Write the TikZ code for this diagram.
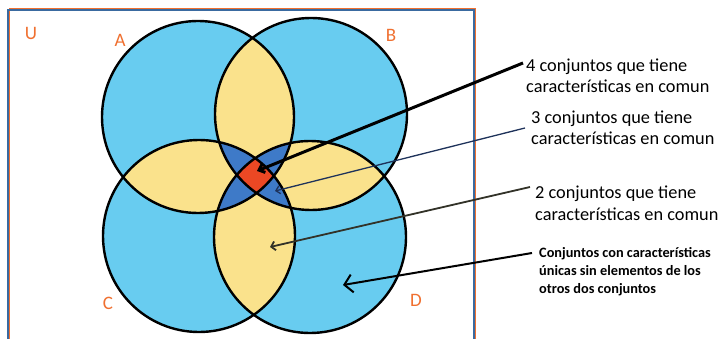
\documentclass[tikz,border=0pt]{standalone}
\usepackage{fontspec}
\setmainfont{Carlito}
\usetikzlibrary{arrows.meta}
\definecolor{setblue}{RGB}{104,204,240}
\definecolor{pairyellow}{RGB}{250,226,140}
\definecolor{tripleblue}{RGB}{62,122,200}
\definecolor{allred}{RGB}{236,72,36}
\definecolor{labelorange}{RGB}{240,112,48}
\definecolor{framblue}{RGB}{58,106,160}
\definecolor{navyline}{RGB}{30,50,90}
\definecolor{oliveline}{RGB}{50,50,40}

\begin{document}
\begin{tikzpicture}[x=1pt, y=-1pt,
  setline/.style={draw=black, line width=2.4pt},
  setlabel/.style={text=labelorange, font=\fontsize{19}{19}\selectfont, inner sep=0pt},
  note/.style={anchor=base west, align=left, inner sep=0pt, font=\fontsize{18.3}{21.5}\selectfont},
  smallnote/.style={anchor=base west, align=left, inner sep=0pt, font=\bfseries\fontsize{14.3}{18}\selectfont},
  pointer/.style={-{Straight Barb[length=6pt, width=11pt]}, line width=1.6pt}
]
\useasboundingbox (0,0) rectangle (719,339);
\fill[white] (0,0) rectangle (719,339);

% universe frame
\draw[labelorange, line width=0.8pt] (9,8.5) rectangle (475.5,345);
\draw[framblue, line width=2pt] (7.5,10) rectangle (473.5,345);

% set centres
\def\rad{96}
\coordinate (cA) at (198,117);
\coordinate (cB) at (311,114);
\coordinate (cC) at (199,236);
\coordinate (cD) at (310,237);

% one set
\foreach \s in {A,B,C,D}
  \fill[setblue] (c\s) circle[radius=\rad];

% two sets
\foreach \p/\q in {A/B,A/C,A/D,B/C,B/D,C/D}{
  \begin{scope}
    \clip (c\p) circle[radius=\rad];
    \fill[pairyellow] (c\q) circle[radius=\rad];
  \end{scope}
}

% three sets
\foreach \p/\q/\r in {A/B/C,A/B/D,A/C/D,B/C/D}{
  \begin{scope}
    \clip (c\p) circle[radius=\rad];
    \clip (c\q) circle[radius=\rad];
    \fill[tripleblue] (c\r) circle[radius=\rad];
  \end{scope}
}

% four sets
\begin{scope}
  \clip (cA) circle[radius=\rad];
  \clip (cB) circle[radius=\rad];
  \clip (cC) circle[radius=\rad];
  \fill[allred] (cD) circle[radius=\rad];
\end{scope}

\foreach \s in {A,B,C,D}
  \draw[setline] (c\s) circle[radius=\rad];

% set names
\node[setlabel] (labU) at (31,33) {U};
\node[setlabel] (labA) at (120,40) {A};
\node[setlabel] (labB) at (391,35) {B};
\node[setlabel] (labC) at (108,303) {C};
\node[setlabel] (labD) at (416,300) {D};

% notes (anchored at the baseline of their last line)
\node[note] (n4) at (526,93) {4 conjuntos que tiene\\características en comun};
\node[note] (n3) at (531,145) {3 conjuntos que tiene\\características en comun};
\node[note] (n2) at (535,220) {2 conjuntos que tiene\\características en comun};
\node[smallnote] (n1) at (539,293) {Conjuntos con características\\únicas sin elementos de los\\otros dos conjuntos};

% arrow targets
\coordinate (t4) at (257,171);
\coordinate (t3) at (275,191);
\coordinate (t2) at (270,247);
\coordinate (t1) at (343,285);

\draw[pointer, line width=3pt, -{Straight Barb[length=5pt, width=9pt]}] ([xshift=-3pt, yshift=30pt]n4.base west) -- (t4);
\draw[pointer, navyline, line width=1.3pt, -{Straight Barb[length=4pt, width=8pt]}] ([xshift=-6pt, yshift=17pt]n3.base west) -- (t3);
\draw[pointer, oliveline, line width=1.8pt, -{Straight Barb[length=4pt, width=9pt]}] ([xshift=-5pt, yshift=33pt]n2.base west) -- (t2);
\draw[pointer, line width=2pt, -{Straight Barb[length=8pt, width=18pt]}] ([xshift=-7pt, yshift=40pt]n1.base west) -- (t1);
\end{tikzpicture}
\end{document}
